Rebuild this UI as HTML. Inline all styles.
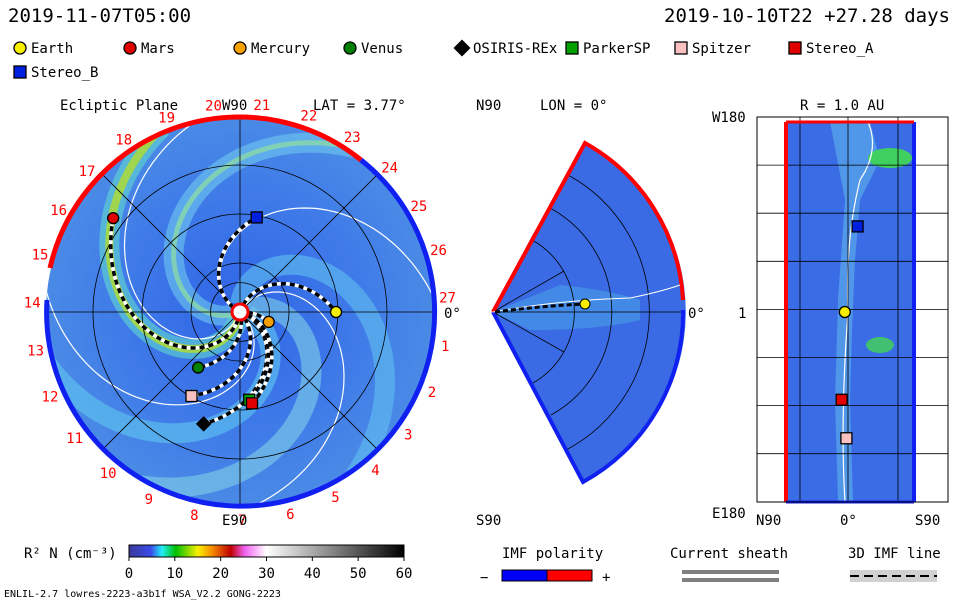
<!DOCTYPE html>
<html><head><meta charset="utf-8"><style>
body{margin:0;background:#fff}
svg{display:block;font-family:"DejaVu Sans Mono","Liberation Mono",monospace}
text{font-size:14px}
</style></head><body>
<svg id="s" width="960" height="600" viewBox="0 0 960 600">
<defs>
<radialGradient id="disc" cx="0.5" cy="0.5" r="0.5">
<stop offset="0" stop-color="#2f64e6"/><stop offset="0.6" stop-color="#3f7ae8"/><stop offset="1" stop-color="#4a8ae6"/>
</radialGradient>
<linearGradient id="cbar" x1="0" x2="1">
<stop offset="0" stop-color="#3a3a9a"/><stop offset="0.08" stop-color="#3a4ae8"/><stop offset="0.12" stop-color="#20f0f8"/>
<stop offset="0.17" stop-color="#00c000"/><stop offset="0.25" stop-color="#f8f000"/><stop offset="0.3" stop-color="#f89000"/>
<stop offset="0.37" stop-color="#c00000"/><stop offset="0.42" stop-color="#f060f0"/><stop offset="0.5" stop-color="#ffffff"/>
<stop offset="1" stop-color="#000000"/></linearGradient>
<clipPath id="dclip"><circle cx="240" cy="312" r="194"/></clipPath>
</defs>
<text x="8" y="22" style="font-size:19px">2019-11-07T05:00</text>
<text x="950" y="22" text-anchor="end" style="font-size:19px">2019-10-10T22 +27.28 days</text>
<g id="legend"></g>
<g id="left">
<circle cx="240" cy="312" r="194" fill="url(#disc)"/>
<g clip-path="url(#dclip)" id="spirals"></g>
<g id="grid" fill="none" stroke="#000" stroke-width="0.8"></g>
<path d="M 50 268 A 194 194 0 0 1 361 160" fill="none" stroke="#f00" stroke-width="5"/>
<path d="M 361 160 A 194 194 0 1 1 47 300" fill="none" stroke="#1020f0" stroke-width="5"/>
<g id="fieldlines" clip-path="url(#dclip)"></g>
<circle cx="240" cy="312" r="8" fill="#fff" stroke="#f00" stroke-width="3"/>
<g id="lons"></g>
<g id="planetsL"></g>
<text x="60" y="110">Ecliptic Plane</text>
<text x="222" y="110">W90</text>
<text x="313" y="110">LAT = 3.77°</text>
<text x="222" y="525">E90</text>
</g>
<g id="mid">
<text x="476" y="110">N90</text>
<text x="540" y="110">LON = 0°</text>
<text x="476" y="525">S90</text>
<text x="688" y="318">0°</text>
<path d="M493 312 L585 143 A192 192 0 0 1 583 482 Z" fill="#3a6ae4" stroke="none"/>
<path d="M493 312 L560 285 Q610 290 640 300 L640 320 Q600 330 530 330 Z" fill="#4aa0ea" opacity="0.6"/>
<g fill="none" stroke="#000" stroke-width="0.8">
<path d="M493 312 L534 233"/><path d="M493 312 L564 271"/><path d="M493 312 L683 312"/><path d="M493 312 L564 352"/><path d="M493 312 L537 392"/>
<path d="M532 240 A82 82 0 0 1 533 383"/><path d="M550 208 A118 118 0 0 1 551 415"/><path d="M568 175 A156 156 0 0 1 566 450"/>
</g>
<path d="M493 312 L585 143 A192 192 0 0 1 683 300" fill="none" stroke="#f00" stroke-width="4"/>
<path d="M683 310 A192 192 0 0 1 583 482 L493 312" fill="none" stroke="#1020f0" stroke-width="4"/>
<path d="M493 312 Q560 300 630 298 Q660 292 680 285" fill="none" stroke="#fff" stroke-width="1"/>
<path d="M495 312 Q540 306 585 304" fill="none" stroke="#000" stroke-width="3" stroke-dasharray="5 3"/>
<circle cx="585" cy="304" r="5" fill="#f8f000" stroke="#000"/>
</g>
<g id="right">
<text x="800" y="110">R = 1.0 AU</text>
<text x="712" y="122">W180</text>
<text x="712" y="518">E180</text>
<text x="756" y="525">N90</text>
<text x="840" y="525">0°</text>
<text x="915" y="525">S90</text>
<text x="738" y="318">1</text>
<rect x="786" y="122" width="128" height="380" fill="#3a6ce6"/>
<path d="M830 122 L870 122 L880 160 L860 200 L855 260 L852 330 L850 400 L853 502 L838 502 L835 400 L838 300 L845 200 Z" fill="#5aa8ea" opacity="0.7"/>
<ellipse cx="890" cy="158" rx="22" ry="10" fill="#40d060"/>
<ellipse cx="880" cy="345" rx="14" ry="8" fill="#40c070"/>
<path d="M868 122 Q880 150 860 180 Q845 240 848 312 Q840 420 845 502" fill="none" stroke="#fff" stroke-width="1.2"/>
<g id="rgrid" fill="none" stroke="#000" stroke-width="0.8"></g>
<line x1="786" y1="122" x2="786" y2="502" stroke="#f00" stroke-width="4"/>
<line x1="914" y1="122" x2="914" y2="502" stroke="#1020f0" stroke-width="4"/>
<line x1="786" y1="122" x2="914" y2="122" stroke="#f00" stroke-width="3"/>
<line x1="786" y1="502" x2="914" y2="502" stroke="#1020f0" stroke-width="3"/>
<rect x="757" y="117" width="191" height="385" fill="none" stroke="#000"/>
<g id="planetsR"></g>
</g>
<g>
<text x="24" y="558">R² N (cm⁻³)</text>
<rect x="129" y="545" width="275" height="12" fill="url(#cbar)" stroke="#000"/>
<g id="cticks"></g>
</g>
<g>
<text x="502" y="558">IMF polarity</text>
<text x="480" y="582">−</text><text x="602" y="582">+</text>
<rect x="502" y="570" width="45" height="11" fill="#0000f8" stroke="#000"/><rect x="547" y="570" width="45" height="11" fill="#f00" stroke="#000"/>
</g>
<g>
<text x="670" y="558">Current sheath</text>
<rect x="682" y="570" width="97" height="4" fill="#808080"/><rect x="682" y="578" width="97" height="4" fill="#808080"/>
</g>
<g>
<text x="848" y="558">3D IMF line</text>
<rect x="850" y="570" width="87" height="12" fill="#d0d0d0"/>
<line x1="850" y1="576" x2="937" y2="576" stroke="#000" stroke-width="2" stroke-dasharray="9 5"/>
</g>
<text x="4" y="597" style="font-size:10px">ENLIL-2.7 lowres-2223-a3b1f WSA_V2.2 GONG-2223</text>
</svg>
<script>
const NS="http://www.w3.org/2000/svg";
const cbTicks=[0,10,20,30,40,50,60];
const planetNames=["Earth","Mars","Mercury","Venus","OSIRIS-REx","ParkerSP","Spitzer","Stereo_A","Stereo_B"];
const planetColors=["#f8f000","#e00000","#f8a000","#008000","#000","#00a000","#f8c0c0","#e00000","#0020e0"];
const planetShapes=["c","c","c","c","d","s","s","s","s"];
// ecliptic positions: radius (AU), angle (deg, 0=right, ccw)
const planetR=[0.98,1.61,0.31,0.71,1.2,0.9,0.99,0.94,0.98];
const planetAng=[0,143.5,-19,-127,-108,-84,-120,-82.5,80];
const rightNames=["Earth","Stereo_B","Stereo_A","Spitzer"];
const rightLat=[-1,3,-2,-0.5];
const rightLon=[0,-80,82,118];
const lonLabels=[1,2,3,4,5,6,7,8,9,10,11,12,13,14,15,16,17,18,19,20,21,22,23,24,25,26,27];
function el(t,a,p){const e=document.createElementNS(NS,t);for(const k in a)e.setAttribute(k,a[k]);p.appendChild(e);return e;}
function marker(p,x,y,sh,c,sz){let e;
 if(sh=="c")e=el("circle",{cx:x,cy:y,r:sz/2,fill:c,stroke:"#000","stroke-width":1.3},p);
 else if(sh=="s")e=el("rect",{x:x-sz/2,y:y-sz/2,width:sz,height:sz,fill:c,stroke:"#000","stroke-width":1.3},p);
 else e=el("rect",{x:x-sz/2,y:y-sz/2,width:sz,height:sz,fill:c,transform:`rotate(45 ${x} ${y})`},p);
 return e;}
const lg=document.getElementById("legend");
const lx=[20,130,240,350,462,572,681,795,20],ly=[48,48,48,48,48,48,48,48,72];
planetNames.forEach((n,i)=>{
 const m=marker(lg,lx[i],ly[i],planetShapes[i],planetColors[i],12);
 
 
 const t=el("text",{x:lx[i]+11,y:ly[i]+5},lg);t.textContent=n;
 
 
});
const CX=240,CY=312,AU=98,K=0.75;
const g=document.getElementById("grid");
[0.3,0.5,1,1.5].forEach(r=>el("circle",{cx:CX,cy:CY,r:r*AU},g));
for(let a=0;a<360;a+=45){const t=a*Math.PI/180;el("line",{x1:CX,y1:CY,x2:CX+194*Math.cos(t),y2:CY-194*Math.sin(t)},g);}
const sp=document.getElementById("spirals");
function spiralPath(a0,rmax){let d="";for(let r=8;r<=rmax;r+=3){const a=(a0-r*K)*Math.PI/180;const x=CX+r*Math.cos(a),y=CY-r*Math.sin(a);d+=(d?"L":"M")+x.toFixed(1)+" "+y.toFixed(1);}return d;}
const streamAng=[205,263,95,345,30];
const streamCol=["#70c8f0","#60d8d0","#60c0f0","#60c8f0","#80d0e8"];
streamAng.forEach((a,i)=>{const p=el("path",{d:spiralPath(a,200),fill:"none",stroke:streamCol[i],"stroke-width":20,opacity:0.6},sp);
 });
el("path",{d:spiralPath(263,200),fill:"none",stroke:"#a8d840","stroke-width":8,opacity:0.9},sp);
el("path",{d:spiralPath(205,200),fill:"none",stroke:"#90e0a0","stroke-width":5,opacity:0.7},sp);
[150,250,320,60].forEach(a=>el("path",{d:spiralPath(a,200),fill:"none",stroke:"#fff","stroke-width":1.2},sp));
const fl=document.getElementById("fieldlines");
planetNames.forEach((n,i)=>{const rr=planetR[i]*AU;const a0=planetAng[i]+rr*K;
 el("path",{d:spiralPath(a0,rr),fill:"none",stroke:"#fff","stroke-width":3.5},fl);
 el("path",{d:spiralPath(a0,rr),fill:"none",stroke:"#000","stroke-width":3.5,"stroke-dasharray":"5 4"},fl);});
const pl=document.getElementById("planetsL");
planetNames.forEach((n,i)=>{const t=planetAng[i]*Math.PI/180,r=planetR[i]*AU;
 const m=marker(pl,CX+r*Math.cos(t),CY-r*Math.sin(t),planetShapes[i],planetColors[i],11);
 });
const lo=document.getElementById("lons");
lonLabels.forEach(n=>{const a=((27-n)*13.333+4)*Math.PI/180;const x=CX+208*Math.cos(a),y=CY-208*Math.sin(a)+5;
 const t=el("text",{x:x,y:y,"text-anchor":"middle",fill:"#f00"},lo);t.textContent=n;
 });
el("text",{x:444,y:318},lo).textContent="0°";
const rg=document.getElementById("rgrid");
for(let i=1;i<8;i++)el("line",{x1:757,y1:117+i*48.1,x2:948,y2:117+i*48.1},rg);
[800,848,898].forEach(x=>el("line",{x1:x,y1:117,x2:x,y2:502},rg));
const pr=document.getElementById("planetsR");
rightNames.forEach((n,i)=>{const idx=planetNames.indexOf(n);
 const x=848+rightLat[i]*3.2,y=312+rightLon[i]*1.07;
 const m=marker(pr,x,y,planetShapes[idx],planetColors[idx],11);
 });
const ct=document.getElementById("cticks");
cbTicks.forEach(v=>{const x=129+v/60*275;el("line",{x1:x,y1:557,x2:x,y2:561,stroke:"#000"},ct);
 const t=el("text",{x:x,y:578,"text-anchor":"middle"},ct);t.textContent=v;
 });
</script>
</body></html>
